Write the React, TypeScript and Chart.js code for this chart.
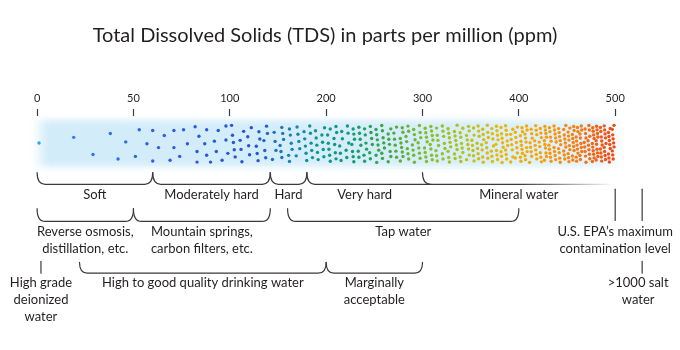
import React, { useEffect, useRef } from 'react';
import { Chart, registerables } from 'chart.js';

Chart.register(...registerables);

// ---------- data ----------
const TITLE = 'Total Dissolved Solids (TDS) in parts per million (ppm)';
const tickValues = [0, 50, 100, 200, 300, 400, 500];
// broken scale: ppm value at each equally spaced slot (plus the >1000 marker)
const scaleBreaks = [0, 50, 100, 200, 300, 400, 500, 1000];
const scaleSlots = [0, 1, 2, 3, 4, 5, 6, 6.28];

// individual dots of the sparse part (ppm, height inside the band 0 = top .. 1 = bottom)
const sparseDotPpm = [1, 19, 29, 38, 42, 46, 51, 53, 57, 60, 60, 63, 66, 69, 71, 71, 74, 76, 78, 82, 83, 83, 84, 87, 88, 88, 90, 92, 93, 94, 96, 98, 98, 99];
const sparseDotLevel = [0.48, 0.33, 0.78, 0.23, 0.9, 0.45, 0.83, 0.13, 0.5, 0.15, 0.95, 0.6, 0.28, 0.93, 0.6, 0.15, 0.83, 0.13, 0.5, 0.05, 0.7, 0.98, 0.3, 0.5, 0.8, 0.13, 0.98, 0.43, 0.7, 0.15, 0.93, 0.03, 0.4, 0.75];

// dot density of the dense part, dots per bucket
const dotBucketEdges = [100, 125, 150, 175, 200, 225, 250, 275, 300, 325, 350, 375, 400, 425, 450, 475, 500];
const dotCounts = [13, 14, 17, 20, 22, 25, 27, 29, 30, 32, 35, 38, 42, 46, 52, 56];

// dot colour along the scale
const colorStopPpm = [0, 20, 60, 125, 160, 190, 230, 270, 300, 340, 380, 420, 460, 500];
const colorStopHex = ['#1fa8f0', '#2b80e6', '#2e60e0', '#2553d6', '#1d7eb4', '#0f978c', '#159c6c', '#4dab3a', '#7fbd2c', '#b4c21a', '#ecb808', '#f9a406', '#f87e12', '#f04614'];

// hardness row
const hardnessLabels = ['Soft', 'Moderately hard', 'Hard', 'Very hard', 'Mineral water'];
const hardnessFrom = [0, 60, 142, 180, 300];
const hardnessTo = [60, 142, 180, 300, 500];
const hardnessOpen = [false, false, false, true, true];

// source row
const sourceLabels = ['Reverse osmosis,\ndistillation, etc.', 'Mountain springs,\ncarbon filters, etc.', 'Tap water'];
const sourceFrom = [0, 50, 160];
const sourceTo = [50, 142, 400];

// quality row
const qualityLabels = ['High to good quality drinking water', 'Marginally\nacceptable'];
const qualityFrom = [22, 200];
const qualityTo = [200, 300];

// single-value markers
const markerLabels = ['High grade\ndeionized\nwater', 'U.S. EPA\u2019s maximum\ncontamination level', '>1000 salt\nwater'];
const markerValues = [2, 500, 1000];

// ---------- layout (reference pixel rows) ----------
const Y_MIN = 112;
const Y_MAX = 350;
const BAND_TOP = 116;
const BAND_BOTTOM = 164;
const DOT_TOP = 121;
const DOT_BOTTOM = 160;
const BUCKET_W_PX = 24;
const ROW1 = { top: 170, line: 182, label: 193 };
const ROW2 = { top: 207, line: 220, label: 231 };
const ROW3 = { top: 262, line: 273, label: 283 };
const LINE_H = 16.8;
const INK = '#231f20';
const STROKE = '#3a3a3a';
const FONT = '13px Lato';

const toSlot = (ppm: number) => {
  for (let i = 1; i < scaleBreaks.length; i++) {
    if (ppm <= scaleBreaks[i] || i === scaleBreaks.length - 1) {
      const a = scaleBreaks[i - 1];
      const b = scaleBreaks[i];
      return scaleSlots[i - 1] + ((ppm - a) / (b - a)) * (scaleSlots[i] - scaleSlots[i - 1]);
    }
  }
  return 0;
};

const hexToRgb = (h: string) => [parseInt(h.slice(1, 3), 16), parseInt(h.slice(3, 5), 16), parseInt(h.slice(5, 7), 16)];
const colorAtSlot = (s: number) => {
  const slots = colorStopPpm.map(toSlot);
  if (s <= slots[0]) return colorStopHex[0];
  for (let i = 1; i < slots.length; i++) {
    if (s <= slots[i]) {
      const t = (s - slots[i - 1]) / (slots[i] - slots[i - 1]);
      const a = hexToRgb(colorStopHex[i - 1]);
      const b = hexToRgb(colorStopHex[i]);
      const c = a.map((v, k) => Math.round(v + (b[k] - v) * t));
      return `rgb(${c[0]},${c[1]},${c[2]})`;
    }
  }
  return colorStopHex[colorStopHex.length - 1];
};

const frac = (v: number) => v - Math.floor(v);

const buildDots = () => {
  const pts: { x: number; y: number }[] = [];
  const cols: string[] = [];
  const H = DOT_BOTTOM - DOT_TOP;
  sparseDotPpm.forEach((p, i) => {
    const sx = toSlot(p);
    pts.push({ x: sx, y: DOT_TOP + sparseDotLevel[i] * H });
    cols.push(colorAtSlot(sx));
  });
  let g = 0;
  for (let b = 0; b < dotCounts.length; b++) {
    const n = dotCounts[b];
    const s0 = toSlot(dotBucketEdges[b]);
    const s1 = toSlot(dotBucketEdges[b + 1]);
    const nc = Math.max(1, Math.round(Math.sqrt((n * BUCKET_W_PX) / H)));
    const cw = (s1 - s0) / nc;
    for (let c = 0; c < nc; c++, g++) {
      const k = Math.floor(n / nc) + (c < n % nc ? 1 : 0);
      for (let r = 0; r < k; r++) {
        const stagger = g % 2 ? 0.25 : -0.25;
        const jy = (frac((g * 7 + r * 3) * 0.618) - 0.5) * 0.35;
        const jx = (frac((g * 5 + r * 11) * 0.382) - 0.5) * 0.55;
        let fy = (r + 0.5 + stagger + jy) / k;
        fy = Math.min(0.99, Math.max(0.01, fy));
        const sx = s0 + (c + 0.5 + jx) * cw;
        pts.push({ x: sx, y: DOT_TOP + fy * H });
        cols.push(colorAtSlot(sx));
      }
    }
  }
  return { pts, cols };
};

const drawText = (ctx: CanvasRenderingContext2D, text: string, x: number, y: number) => {
  ctx.fillStyle = INK;
  ctx.font = FONT;
  ctx.textAlign = 'center';
  ctx.textBaseline = 'middle';
  text.split('\n').forEach((ln, i) => ctx.fillText(ln, x, y + i * LINE_H));
};

const annotationPlugin = {
  id: 'tdsAnnotations',
  beforeDatasetsDraw(chart: any) {
    const { ctx, scales } = chart;
    const xs = scales.x;
    const ys = scales.y;
    const x0 = xs.getPixelForValue(toSlot(0));
    const x1 = xs.getPixelForValue(toSlot(500));
    const yt = ys.getPixelForValue(BAND_TOP);
    const yb = ys.getPixelForValue(BAND_BOTTOM);
    ctx.save();
    ctx.filter = 'blur(3px)';
    const L = x0 - 4;
    const R = x1 + 6;
    const g = ctx.createLinearGradient(L, 0, R, 0);
    g.addColorStop(0, 'rgba(211,236,250,0)');
    g.addColorStop(14 / (R - L), 'rgba(211,236,250,1)');
    g.addColorStop(0.75, 'rgba(214,238,250,1)');
    g.addColorStop(0.96, 'rgba(226,242,251,1)');
    g.addColorStop(1, 'rgba(226,242,251,0)');
    ctx.fillStyle = g;
    ctx.fillRect(L, yt, R - L, yb - yt);
    ctx.restore();
  },
  afterDatasetsDraw(chart: any) {
    const { ctx, scales } = chart;
    const xs = scales.x;
    const ys = scales.y;
    const px = (ppm: number) => xs.getPixelForValue(toSlot(ppm));
    const py = (v: number) => ys.getPixelForValue(v);
    const R = 8;
    ctx.save();
    ctx.lineWidth = 1.2;
    ctx.strokeStyle = STROKE;
    ctx.lineCap = 'round';

    const bracket = (a: number, b: number, row: { top: number; line: number }) => {
      const xa = px(a);
      const xb = px(b);
      const yt = py(row.top);
      const yl = py(row.line);
      ctx.beginPath();
      ctx.moveTo(xa, yt);
      ctx.quadraticCurveTo(xa, yl, xa + R, yl);
      ctx.lineTo(xb - R, yl);
      ctx.quadraticCurveTo(xb, yl, xb, yt);
      ctx.stroke();
    };
    const openBracket = (a: number, b: number, row: { top: number; line: number }, withLine: boolean) => {
      const xa = px(a);
      const xb = px(b);
      const yt = py(row.top);
      const yl = py(row.line);
      ctx.save();
      const g = ctx.createLinearGradient(px(400), 0, xb, 0);
      g.addColorStop(0, 'rgba(58,58,58,1)');
      g.addColorStop(1, 'rgba(58,58,58,0)');
      ctx.strokeStyle = withLine ? g : STROKE;
      ctx.beginPath();
      ctx.moveTo(xa, yt);
      ctx.quadraticCurveTo(xa, yl, xa + R, yl);
      if (withLine) ctx.lineTo(xb, yl);
      ctx.stroke();
      ctx.restore();
    };

    hardnessLabels.forEach((lab, i) => {
      if (!hardnessOpen[i]) bracket(hardnessFrom[i], hardnessTo[i], ROW1);
      else openBracket(hardnessFrom[i], hardnessTo[hardnessTo.length - 1], ROW1, i === hardnessOpen.indexOf(true));
      drawText(ctx, lab, (px(hardnessFrom[i]) + px(hardnessTo[i])) / 2, py(ROW1.label));
    });
    sourceLabels.forEach((lab, i) => {
      bracket(sourceFrom[i], sourceTo[i], ROW2);
      drawText(ctx, lab, (px(sourceFrom[i]) + px(sourceTo[i])) / 2, py(ROW2.label));
    });
    qualityLabels.forEach((lab, i) => {
      bracket(qualityFrom[i], qualityTo[i], ROW3);
      drawText(ctx, lab, (px(qualityFrom[i]) + px(qualityTo[i])) / 2, py(ROW3.label));
    });

    const vline = (x: number, y1: number, y2: number) => {
      ctx.beginPath();
      ctx.moveTo(x, py(y1));
      ctx.lineTo(x, py(y2));
      ctx.stroke();
    };
    const xd = px(markerValues[0]);
    vline(xd, ROW3.top - 1, ROW3.line);
    drawText(ctx, markerLabels[0], xd, py(ROW3.label));
    const xe = px(markerValues[1]);
    vline(xe, ROW1.top + 17, ROW2.line - 1);
    drawText(ctx, markerLabels[1], xe, py(ROW2.label));
    const xs2 = px(markerValues[2]);
    vline(xs2, ROW1.top + 17, ROW2.line - 1);
    vline(xs2, ROW3.top - 1, ROW3.line);
    drawText(ctx, markerLabels[2], xs2 - 4, py(ROW3.label));
    ctx.restore();
  },
};

export default function App() {
  const ref = useRef<HTMLCanvasElement | null>(null);
  useEffect(() => {
    if (!ref.current) return;
    Chart.defaults.font.family = 'Lato';
    const { pts, cols } = buildDots();
    const slotPx = 96.6;
    const left0 = 35.5;
    const areaW = 650;
    const chart = new Chart(ref.current, {
      type: 'scatter',
      data: {
        datasets: [
          {
            data: pts,
            pointBackgroundColor: cols,
            pointBorderWidth: 0,
            pointRadius: 1.7,
            pointHoverRadius: 1.7,
          },
        ],
      },
      options: {
        responsive: false,
        animation: false,
        events: [],
        layout: { padding: { left: 0, right: 30, top: 0, bottom: 0 } },
        plugins: {
          legend: { display: false },
          tooltip: { enabled: false },
          title: {
            display: true,
            text: TITLE,
            color: INK,
            font: { family: 'Lato', size: 20, weight: 'normal' },
            padding: { top: 24, bottom: 39.8 },
          },
        },
        scales: {
          x: {
            type: 'linear',
            position: 'top',
            min: -left0 / slotPx,
            max: -left0 / slotPx + areaW / slotPx,
            afterBuildTicks: (axis: any) => {
              axis.ticks = tickValues.map((v) => ({ value: toSlot(v) }));
            },
            ticks: {
              callback: (val: any) => String(tickValues[Math.round(Number(val))]),
              font: { family: 'Lato', size: 11 },
              color: INK,
              padding: 4,
              maxRotation: 0,
              autoSkip: false,
            },
            grid: { display: true, drawOnChartArea: false, tickLength: 7, tickWidth: 1.2, tickColor: STROKE },
            border: { display: false },
          },
          y: { display: false, min: Y_MIN, max: Y_MAX, reverse: true },
        },
      },
      plugins: [annotationPlugin],
    } as any);
    return () => chart.destroy();
  }, []);
  return (
    <div style={{ position: 'absolute', left: 0, top: 0, width: 680, height: 350, background: '#fff' }}>
      <canvas ref={ref} width={680} height={350} />
    </div>
  );
}
